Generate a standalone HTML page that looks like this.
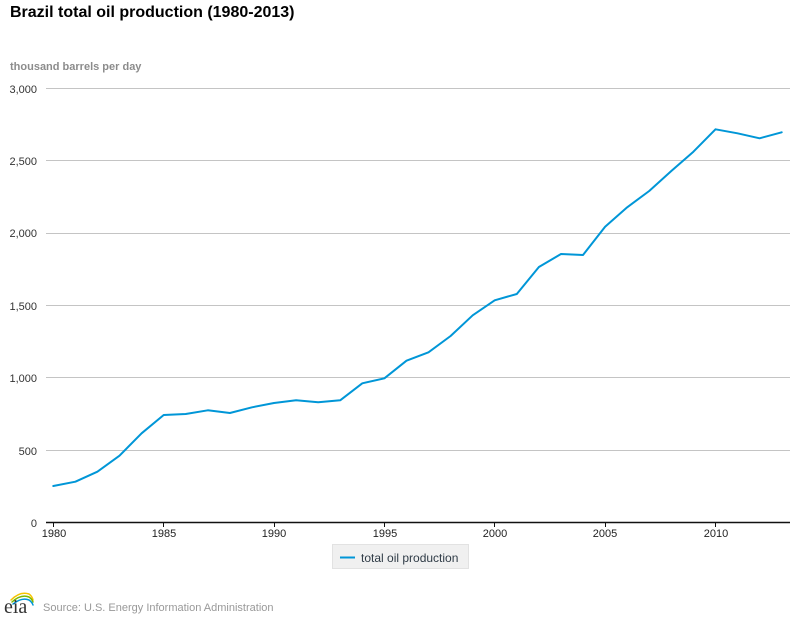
<!DOCTYPE html>
<html><head><meta charset="utf-8"><style>
html,body{margin:0;padding:0;background:#fff;}
body{width:800px;height:620px;overflow:hidden;font-family:"Liberation Sans",Arial,sans-serif;}
</style></head><body>
<svg width="800" height="620" viewBox="0 0 800 620" xmlns="http://www.w3.org/2000/svg" font-family="Liberation Sans, Arial, sans-serif">
<rect width="800" height="620" fill="#fff"/>
<text x="10" y="17" font-size="16" font-weight="bold" fill="#000">Brazil total oil production (1980-2013)</text>
<text x="10" y="70" font-size="11" font-weight="bold" fill="#8c8c8c">thousand barrels per day</text>
<g stroke="#c4c4c4" stroke-width="1">
<line x1="46" x2="790" y1="88.5" y2="88.5"/>
<line x1="46" x2="790" y1="160.5" y2="160.5"/>
<line x1="46" x2="790" y1="233.5" y2="233.5"/>
<line x1="46" x2="790" y1="305.5" y2="305.5"/>
<line x1="46" x2="790" y1="377.5" y2="377.5"/>
<line x1="46" x2="790" y1="450.5" y2="450.5"/>
</g>
<g font-size="11" fill="#333" text-anchor="end">
<text x="37" y="93">3,000</text>
<text x="37" y="165">2,500</text>
<text x="37" y="237">2,000</text>
<text x="37" y="310">1,500</text>
<text x="37" y="382">1,000</text>
<text x="37" y="455">500</text>
<text x="37" y="527">0</text>
</g>
<line x1="46" x2="790" y1="522.5" y2="522.5" stroke="#111" stroke-width="1.5"/>
<g stroke="#111" stroke-width="1">
<line x1="53.5" x2="53.5" y1="522" y2="527"/>
<line x1="163.5" x2="163.5" y1="522" y2="527"/>
<line x1="274.5" x2="274.5" y1="522" y2="527"/>
<line x1="384.5" x2="384.5" y1="522" y2="527"/>
<line x1="494.5" x2="494.5" y1="522" y2="527"/>
<line x1="605.5" x2="605.5" y1="522" y2="527"/>
<line x1="715.5" x2="715.5" y1="522" y2="527"/>
</g>
<g font-size="11" fill="#222" text-anchor="middle">
<text x="54" y="537">1980</text>
<text x="164" y="537">1985</text>
<text x="274" y="537">1990</text>
<text x="385" y="537">1995</text>
<text x="495" y="537">2000</text>
<text x="605" y="537">2005</text>
<text x="716" y="537">2010</text>
</g>
<polyline fill="none" stroke="#0096d7" stroke-width="2" stroke-linejoin="round" stroke-linecap="round" points="53.3,486 75.4,481.7 97.4,471.7 119.5,455.7 141.6,433.3 163.7,415 185.7,414 207.8,410.3 229.9,413 252,407.3 274,403 296.1,400.3 318.2,402.3 340.2,400.3 362.3,383.3 384.4,378.3 406.5,360.7 428.5,352.3 450.6,336 472.7,315.3 494.7,300.3 516.8,294 538.9,267 561,254 583,255 605.1,226.7 627.2,207.3 649.2,191 671.3,171 693.4,151.7 715.5,129.3 737.5,133.3 759.6,138.3 781.7,132.3"/>
<rect x="332.5" y="544.5" width="136" height="24" fill="#f0f0f0" stroke="#e2e2e2" stroke-width="1"/>
<line x1="340" x2="355" y1="557.5" y2="557.5" stroke="#0096d7" stroke-width="2"/>
<text x="361" y="562" font-size="12" fill="#2f3b46">total oil production</text>
<g fill="none" stroke-width="1.5" stroke-linecap="round">
<path d="M11,600 Q20,591 29,594 Q32,596 33,600" stroke="#f5c400"/>
<path d="M12,602 Q21,594 29,597 Q32,599 33,602" stroke="#7ab800"/>
<path d="M13,604 Q22,597 29,600 Q32,602 33,605" stroke="#0096d7"/>
</g>
<text x="4" y="613" font-family="Liberation Serif, serif" font-size="20" fill="#333">eia</text>
<text x="43" y="611" font-size="11" fill="#999">Source: U.S. Energy Information Administration</text>
</svg>
</body></html>
